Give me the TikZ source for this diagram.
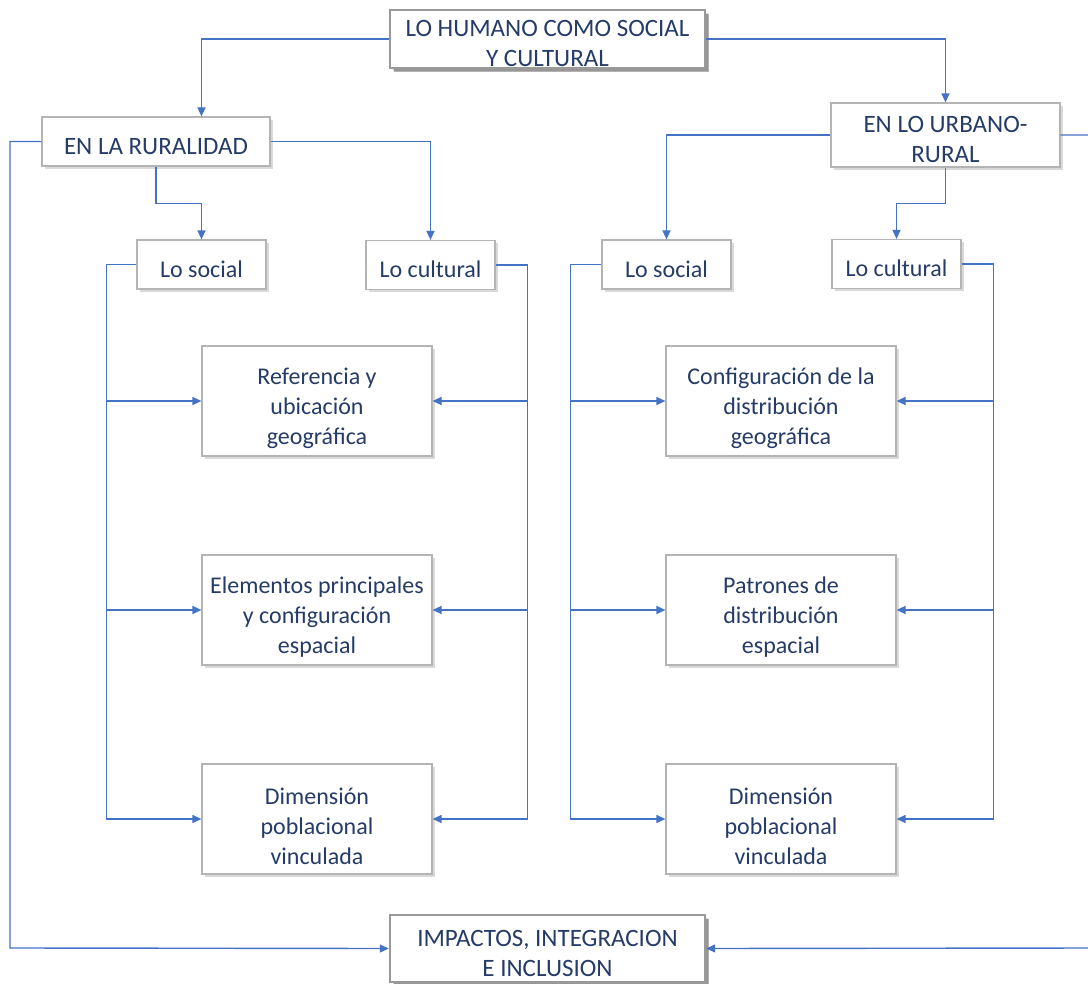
\documentclass[tikz,border=0pt]{standalone}
\usepackage{fontspec}
\setmainfont{Carlito}
\usetikzlibrary{arrows.meta,shadows}
\definecolor{navy}{HTML}{263C68}
\definecolor{linkblue}{HTML}{4472C4}
\definecolor{boxgray}{HTML}{B4B4B4}
\tikzset{
  box/.style={draw=boxgray, line width=1.2pt, fill=white, text=navy, align=center,
    font=\fontsize{24}{30}\selectfont, inner sep=0pt,
    execute at begin node={\rule{0pt}{26pt}},
    drop shadow={shadow xshift=3pt, shadow yshift=-3pt, opacity=0.15, fill=black}},
  headbox/.style={box, draw=gray!80, line width=2.4pt,
    drop shadow={shadow xshift=4pt, shadow yshift=-4pt, opacity=0.3, fill=black}},
  caps/.style={font=\fontsize{25}{30}\selectfont},
  twolines/.style={text width=#1, align=flush center,
    execute at begin node={\rule{0pt}{25pt}}},
  threelines/.style={minimum width=230pt, minimum height=110pt, text width=224pt,
    align=flush center, execute at begin node={\rule{0pt}{31pt}}},
  link/.style={draw=linkblue, line width=1.4pt, -{Triangle[length=9pt,width=8pt]}},
}
\begin{document}
\begin{tikzpicture}[x=1pt,y=-1pt]
\useasboundingbox[fill=white] (0,0) rectangle (1088,984);
% heads
\node[headbox, caps, twolines=305pt, minimum width=315pt, minimum height=58pt] (top) at (547.5,39) {LO HUMANO COMO SOCIAL\\Y CULTURAL};
\node[headbox, caps, twolines=305pt, minimum width=315pt, minimum height=67pt] (impact) at (547.5,948.5) {IMPACTOS, INTEGRACION\\E INCLUSION};
\node[box, caps, minimum width=228pt, minimum height=49pt] (rural) at (156,141.5) {EN LA RURALIDAD};
\node[box, caps, twolines=220pt, minimum width=229pt, minimum height=64pt] (urban) at (945.5,135) {EN LO URBANO-\\RURAL};
% second level
\node[box, minimum width=129pt, minimum height=49pt] (ls1) at (201.5,264.5) {Lo social};
\node[box, minimum width=129pt, minimum height=49pt] (lc1) at (430.5,265) {Lo cultural};
\node[box, minimum width=129pt, minimum height=49pt] (ls2) at (666.5,264.5) {Lo social};
\node[box, minimum width=129pt, minimum height=49pt] (lc2) at (896.5,264) {Lo cultural};
% rural column
\node[box, threelines] (r1) at (317,401) {Referencia y\\ubicación\\geográfica};
\node[box, threelines] (r2) at (317,610) {Elementos principales\\y configuración\\espacial};
\node[box, threelines] (r3) at (317,819) {Dimensión\\poblacional\\vinculada};
% urban column
\node[box, threelines] (u1) at (781,401) {Configuración de la\\distribución\\geográfica};
\node[box, threelines] (u2) at (781,610) {Patrones de\\distribución\\espacial};
\node[box, threelines] (u3) at (781,819) {Dimensión\\poblacional\\vinculada};
\coordinate (lft) at (10,948);
\coordinate (rgt) at (1100,948);
% connectors
\draw[link] (top.west) -| (ls1.north |- rural.north);
\draw[link] (top.east) -| (urban.north);
\draw[link] (rural.south) -- ++(0,37) -| (ls1.north);
\draw[link] (rural.east) -| (lc1.north);
\draw[link] (urban.west) -| (ls2.north);
\draw[link] (urban.south) -- ++(0,36) -| (lc2.north);
\draw[link] (rural.west) -| (lft) -- (impact.west);
\draw[link] (urban.east) -| (rgt) -- (impact.east);
\foreach \b in {r1,r2,r3} {
  \draw[link] (ls1.west) -| ([xshift=-95pt]\b.west) -- (\b.west);
  \draw[link] (lc1.east) -| ([xshift=95pt]\b.east) -- (\b.east);
}
\foreach \b in {u1,u2,u3} {
  \draw[link] (ls2.west) -| ([xshift=-95pt]\b.west) -- (\b.west);
  \draw[link] (lc2.east) -| ([xshift=97pt]\b.east) -- (\b.east);
}
\end{tikzpicture}
\end{document}
